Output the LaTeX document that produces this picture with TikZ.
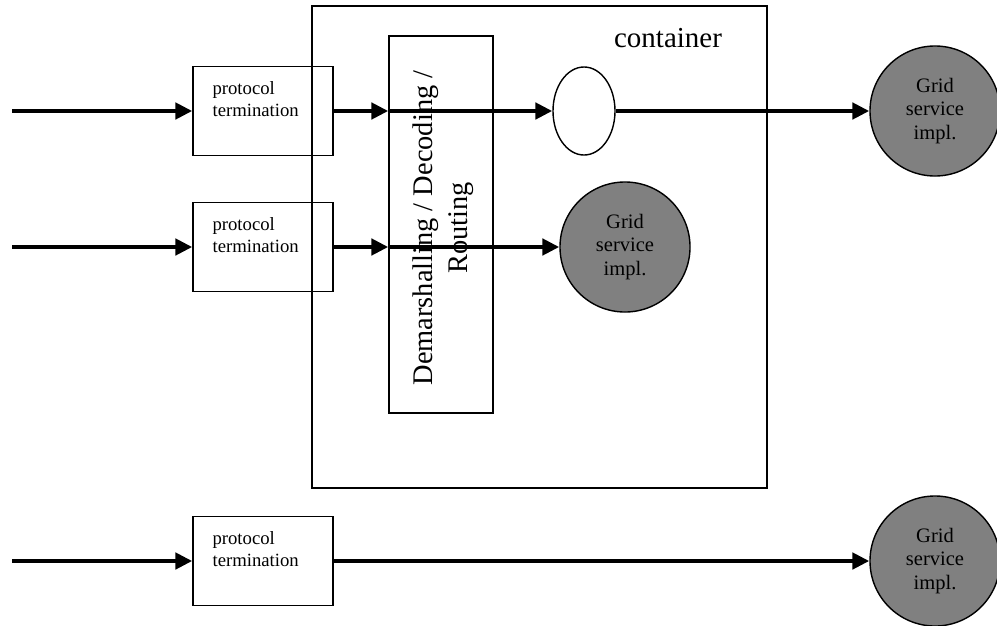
\documentclass[tikz,border=0pt]{standalone}
\usepackage{fontspec}
\setmainfont{Liberation Serif}
\usetikzlibrary{arrows.meta,shapes.geometric}

\begin{document}
\begin{tikzpicture}[x=0.025cm,y=-0.025cm,
  box/.style={draw,line width=1pt,inner sep=0pt},
  termbox/.style={box,minimum width=3.5cm,minimum height=2.225cm,
    label={[anchor=north west,align=left,inner sep=0pt,font=\fontsize{13.3}{15.6}\selectfont,xshift=0.5cm,yshift=-0.38cm]north west:protocol\\termination}},
  gridsvc/.style={circle,draw,line width=1pt,fill=gray,minimum size=3.25cm,inner sep=0pt,align=center,font=\fontsize{14.6}{17}\selectfont},
  flow/.style={line width=3pt,-{Triangle[length=0.42cm,width=0.4cm]}}]

\useasboundingbox (0,0) rectangle (997,625);

\node [box,minimum width=11.375cm,minimum height=12.05cm] (cont) at (539.5,247) {};
\node [font=\fontsize{20.6}{24}\selectfont] (contlbl) at (668,38) {container};
\node [box,minimum width=2.6cm,minimum height=9.425cm] (demux) at (441,224.5) {};
\node [rotate=90,align=center,font=\fontsize{20.2}{25}\selectfont] (demuxlbl) at (443,228) {Demarshalling / Decoding /\\Routing};

\node [termbox] (term1) at (263,111) {};
\node [termbox] (term2) at (263,247) {};
\node [termbox] (term3) at (263,561) {};

\node [ellipse,draw,line width=1pt,fill=white,minimum width=1.55cm,minimum height=2.2cm,inner sep=0pt] (disp) at (584,111) {};

\node [gridsvc] (svc1) at (935,111) {Grid\\service\\impl.};
\node [gridsvc] (svc2) at (625,247) {Grid\\service\\impl.};
\node [gridsvc] (svc3) at (935,561) {Grid\\service\\impl.};

\coordinate (in1) at (12,111);
\coordinate (in2) at (12,247);
\coordinate (in3) at (12,561);
\coordinate (dm1) at (demux.west |- term1.east);
\coordinate (dm2) at (demux.west |- term2.east);

\draw [flow] (in1) -- (term1.west);
\draw [flow] (in2) -- (term2.west);
\draw [flow] (in3) -- (term3.west);

\draw [flow] (term1.east) -- (dm1);
\draw [flow] (dm1) -- (disp.west);
\draw [flow] (disp.east) -- (svc1.west);

\draw [flow] (term2.east) -- (dm2);
\draw [flow] (dm2) -- (svc2.west);

\draw [flow] (term3.east) -- (svc3.west);
\end{tikzpicture}
\end{document}
